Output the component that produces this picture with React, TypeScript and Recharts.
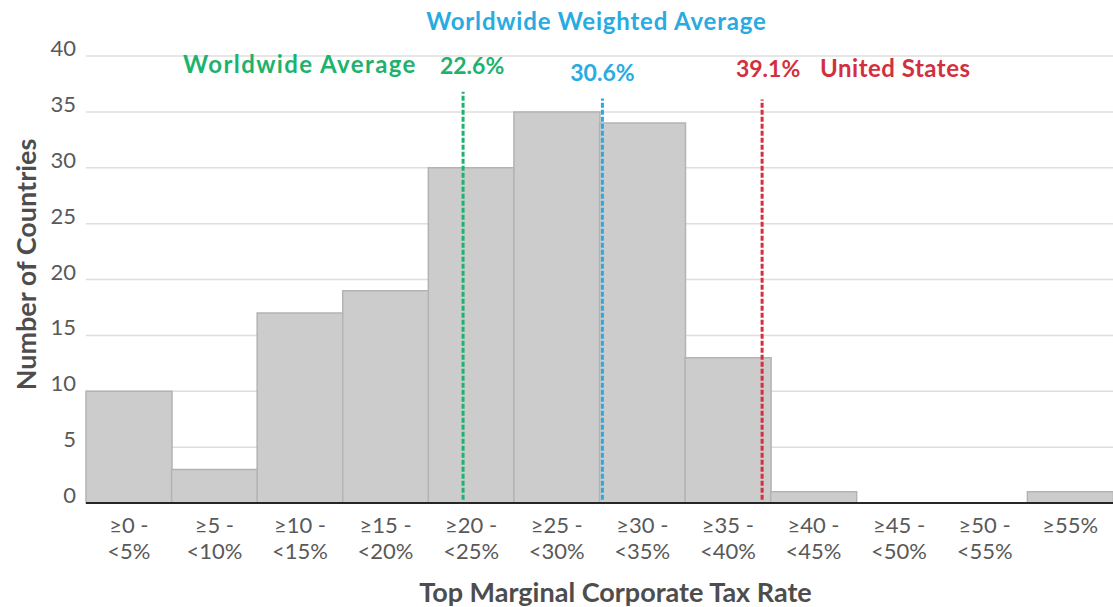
import React from 'react';
import { BarChart, Bar, XAxis, YAxis, CartesianGrid, ReferenceLine } from 'recharts';

// histogram bins (tax rate brackets, 5 points wide) and country counts
const binStart = [0, 5, 10, 15, 20, 25, 30, 35, 40, 45, 50, 55];
const binTop = ['≥0 -', '≥5 -', '≥10 -', '≥15 -', '≥20 -', '≥25 -', '≥30 -', '≥35 -', '≥40 -', '≥45 -', '≥50 -', '≥55%'];
const binBottom = ['<5%', '<10%', '<15%', '<20%', '<25%', '<30%', '<35%', '<40%', '<45%', '<50%', '<55%', ''];
const countries = [10, 3, 17, 19, 30, 35, 34, 13, 1, 0, 0, 1];
const yTicks = [0, 5, 10, 15, 20, 25, 30, 35, 40];

// reference markers: where the dashed line sits on the 0-60% rate axis (as drawn), and its height
const markerNames = ['Worldwide Average', 'Worldwide Weighted Average', 'United States'];
const markerValues = ['22.6%', '30.6%', '39.1%'];
const markerX = [22.03, 30.17, 39.5];
const markerTop = [36.8, 36.2, 36.1];
const markerColors = ['#1db26e', '#29abe2', '#d2303e'];

const data = countries.map((count, i) => ({ mid: binStart[i] + 2.5, count }));
const midTicks = data.map((d) => d.mid);

const FONT = 'Lato, "Open Sans", sans-serif';

const BinTick = (props: any) => {
  const { x, y, payload } = props;
  const i = midTicks.indexOf(payload.value);
  return (
    <text x={x} y={y} textAnchor="middle" fill="#595959" fontSize={22} fontFamily={FONT}>
      <tspan x={x} dy={22}>{binTop[i]}</tspan>
      <tspan x={x} dy={26}>{binBottom[i]}</tspan>
    </text>
  );
};

const CountTick = (props: any) => {
  const { x, y, payload } = props;
  return (
    <text x={x - 2} y={y} textAnchor="end" fill="#595959" fontSize={22} fontFamily={FONT}>
      {payload.value}
    </text>
  );
};

const titleStyle = { fontFamily: FONT, fontWeight: 700, fontSize: 27, fill: '#4d4d4d' };

const YTitle = (props: any) => {
  const { viewBox } = props;
  const cx = 25;
  const cy = viewBox.y + viewBox.height / 2 - 15;
  return (
    <text x={cx} y={cy} transform={`rotate(-90 ${cx} ${cy})`} textAnchor="middle" dominantBaseline="central" style={titleStyle}>
      Number of Countries
    </text>
  );
};

const XTitle = (props: any) => {
  const { viewBox } = props;
  return (
    <text x={viewBox.x + viewBox.width / 2 + 16} y={602} textAnchor="middle" style={titleStyle}>
      Top Marginal Corporate Tax Rate
    </text>
  );
};

const markerLabel = (i: number) => (props: any) => {
  const { viewBox } = props;
  const x = viewBox.x;
  const style = { fontFamily: FONT, fontWeight: 700, fontSize: 24, fill: markerColors[i] };
  const numStyle = { ...style, fontSize: 23 };
  if (i === 0) {
    return (
      <g>
        <text x={x - 280} y={73} textAnchor="start" style={{ ...style, letterSpacing: 1.4 }}>{markerNames[0]}</text>
        <text x={x + 9} y={74} textAnchor="middle" style={numStyle}>{markerValues[0]}</text>
      </g>
    );
  }
  if (i === 1) {
    return (
      <g>
        <text x={x - 6} y={30} textAnchor="middle" style={{ ...style, letterSpacing: 0.8 }}>{markerNames[1]}</text>
        <text x={x} y={81} textAnchor="middle" style={numStyle}>{markerValues[1]}</text>
      </g>
    );
  }
  return (
    <g>
      <text x={x + 6} y={77} textAnchor="middle" style={numStyle}>{markerValues[2]}</text>
      <text x={x + 58} y={77} textAnchor="start" style={{ ...style, letterSpacing: 0.5 }}>{markerNames[2]}</text>
    </g>
  );
};

export default function App() {
  return (
    <div style={{ position: 'absolute', left: 0, top: 0, background: '#fff' }}>
      <BarChart
        width={1113}
        height={607}
        data={data}
        margin={{ top: 56, right: 0, left: 0, bottom: 0 }}
        barCategoryGap={0}
        barGap={0}
      >
        <CartesianGrid vertical={false} stroke="#dedede" strokeWidth={1.5} />
        <XAxis
          dataKey="mid"
          type="number"
          domain={[0, 60]}
          ticks={midTicks}
          height={104}
          tick={<BinTick />}
          tickLine={false}
          axisLine={{ stroke: '#262626', strokeWidth: 2 }}
          interval={0}
          label={<XTitle />}
        />
        <YAxis
          width={86}
          domain={[0, 40]}
          ticks={yTicks}
          tick={<CountTick />}
          tickLine={false}
          axisLine={false}
          label={<YTitle />}
        />
        <Bar dataKey="count" fill="#cccccc" stroke="#b3b3b3" strokeWidth={1.5} isAnimationActive={false} />
        {markerX.map((mx, i) => (
          <ReferenceLine
            key={markerNames[i]}
            segment={[{ x: mx, y: 0.3 }, { x: mx, y: markerTop[i] }]}
            stroke={markerColors[i]}
            strokeWidth={3}
            strokeDasharray="5 2"
            label={markerLabel(i)}
            ifOverflow="visible"
          />
        ))}
      </BarChart>
    </div>
  );
}
